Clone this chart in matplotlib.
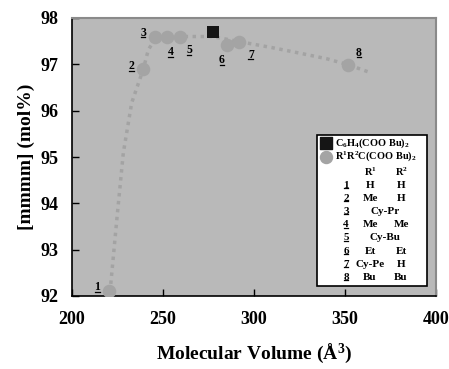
import numpy as np
import matplotlib
matplotlib.use("Agg")
import matplotlib.pyplot as plt
from matplotlib.patches import Rectangle
from matplotlib.lines import Line2D

plt.rcParams['font.family'] = ['Liberation Serif', 'DejaVu Serif']
plt.rcParams['font.weight'] = 'bold'
plt.rcParams['mathtext.fontset'] = 'custom'
plt.rcParams['mathtext.rm'] = 'Liberation Serif:bold'
plt.rcParams['mathtext.bf'] = 'Liberation Serif:bold'
plt.rcParams['mathtext.it'] = 'Liberation Serif:bold'

# data
labels = ['1', '2', '3', '4', '5', '6', '7', '8']
vol = [220.5, 238.8, 245.6, 252.0, 259.3, 285.0, 292.0, 351.8]
mmmm = [92.1, 96.9, 97.59, 97.59, 97.59, 97.42, 97.49, 96.99]
ref_vol = [277.3]
ref_mmmm = [97.7]
trend_x = [220.9, 224.6, 228.2, 232.8, 239.2, 241.9, 244.7, 250, 260, 268.5, 277, 292, 310, 325.3, 340, 351.8, 362.6]
trend_y = [92.09, 93.64, 95.09, 96.17, 96.9, 97.31, 97.49, 97.57, 97.6, 97.6, 97.6, 97.49, 97.36, 97.24, 97.12, 96.99, 96.84]
r1 = ['H', 'Me', 'Cy-Pr', 'Me', 'Cy-Bu', 'Et', 'Cy-Pe', 'Bu']
r2 = ['H', 'H', '', 'Me', '', 'Et', 'H', 'Bu']

# label offsets (points)
offs = [(-8.6, 2.9), (-8, 2), (-8.6, 3), (3, -11), (6.5, -9.4), (-3.4, -11), (8.2, -9.6), (7.7, 8.6)]

fig = plt.figure(figsize=(4.49, 3.69), dpi=100)
ax = fig.add_axes([72 / 449, 1 - 296 / 369, 364 / 449, 278 / 369])
ax.set_facecolor('#b9b9b9')

ax.plot(trend_x, trend_y, ls=(0, (1, 1.3)), color='#a3a3a3', lw=2.5, zorder=2)
ax.scatter(vol, mmmm, s=95, color='#a4a4a4', zorder=3, linewidths=0)
ax.scatter(ref_vol, ref_mmmm, s=75, marker='s', color='#151515', zorder=4, linewidths=0)

underlined = []
for lab, x, y, o in zip(labels, vol, mmmm, offs):
    t = ax.annotate(lab, (x, y), xytext=o, textcoords='offset points',
                    fontsize=8.5, ha='center', va='center', zorder=5)
    underlined.append(t)

ax.set_xlim(200, 400)
ax.set_ylim(92, 98)
ax.set_xticks([200, 250, 300, 350, 400])
ax.set_yticks(range(92, 99))
ax.tick_params(direction='in', length=5, width=1, labelsize=13)
ax.tick_params(axis='x', pad=11)
ax.tick_params(axis='y', pad=10)
for lbl in ax.get_xticklabels() + ax.get_yticklabels():
    lbl.set_fontweight('bold')
for s in ['left', 'bottom']:
    ax.spines[s].set_color('black')
    ax.spines[s].set_linewidth(1.2)
for s in ['top', 'right']:
    ax.spines[s].set_color('#8a8a8a')
    ax.spines[s].set_linewidth(1.5)

ax.set_xlabel(r'Molecular Volume (Å$^3$)', fontsize=14, fontweight='bold', labelpad=9)
ax.set_ylabel('[mmmm] (mol%)', fontsize=14, fontweight='bold', labelpad=4)

# legend box with table
def X(px):
    return (px - 72) / 364

def Y(py):
    return 1 - (py - 18) / 278

ax.add_patch(Rectangle((X(317), Y(286)), X(427) - X(317), Y(135) - Y(286),
                       transform=ax.transAxes, facecolor='white', edgecolor='black',
                       lw=1.2, zorder=6))
ax.scatter([X(326)], [Y(143)], s=65, marker='s', color='#151515', transform=ax.transAxes, zorder=7, clip_on=False)
ax.scatter([X(326)], [Y(156.5)], s=75, color='#a4a4a4', transform=ax.transAxes, zorder=7, clip_on=False)
ax.text(X(335), Y(143), r'C$_6$H$_4$(COO Bu)$_2$', transform=ax.transAxes, fontsize=7.5,
        va='center', ha='left', zorder=7)
ax.text(X(335), Y(156.5), r'R$^1$R$^2$C(COO Bu)$_2$', transform=ax.transAxes, fontsize=7.5,
        va='center', ha='left', zorder=7)
ax.text(X(370), Y(172), r'R$^1$', transform=ax.transAxes, fontsize=7.5, ha='center', va='center', zorder=7)
ax.text(X(401), Y(172), r'R$^2$', transform=ax.transAxes, fontsize=7.5, ha='center', va='center', zorder=7)
for i, (lab, a, b) in enumerate(zip(labels, r1, r2)):
    yy = Y(185 + i * 13.2)
    t = ax.text(X(346), yy, lab, transform=ax.transAxes, fontsize=8,
                ha='center', va='center', zorder=7)
    underlined.append(t)
    if b:
        ax.text(X(370), yy, a, transform=ax.transAxes, fontsize=8, ha='center', va='center', zorder=7)
        ax.text(X(401), yy, b, transform=ax.transAxes, fontsize=8, ha='center', va='center', zorder=7)
    else:
        ax.text(X(385), yy, a, transform=ax.transAxes, fontsize=8, ha='center', va='center', zorder=7)

# underline the compound numbers
fig.canvas.draw()
r = fig.canvas.get_renderer()
for t in underlined:
    bb = t.get_window_extent(r)
    yb = bb.y0 + 1.5
    fig.add_artist(Line2D([bb.x0 + 0.5, bb.x1 - 0.5], [yb, yb], transform=None,
                          color='black', lw=0.9, zorder=8))

fig.savefig('out.png', dpi=100, facecolor='white')
